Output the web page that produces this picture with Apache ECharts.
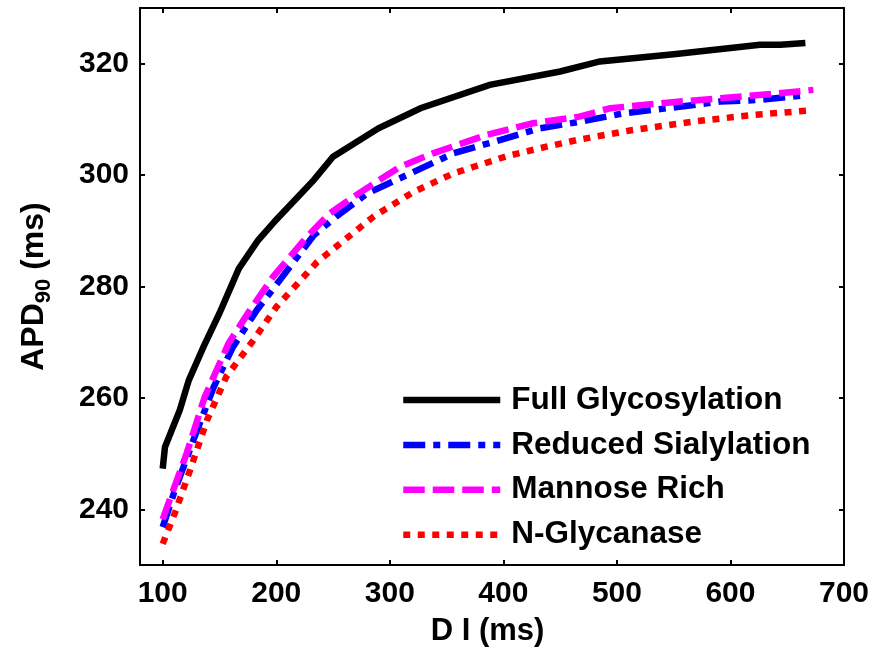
<!DOCTYPE html>
<html>
<head>
<meta charset="utf-8">
<title>APD90 restitution</title>
<script src="https://cdn.jsdelivr.net/npm/echarts@6/dist/echarts.min.js"></script>
<style>
  html, body { margin: 0; padding: 0; background: #fff; }
  #chart { width: 875px; height: 652px; }
</style>
</head>
<body>
<div id="chart"></div>
<script>
// Diastolic interval (ms) and APD90 (ms) for each glycosylation state
const diFull = [100, 102, 115, 123, 136, 150, 167, 184, 200, 233, 250, 290, 327, 388, 450, 485, 550, 626, 644, 666];
const apdFull = [247.3, 251.2, 257.8, 263.2, 269.2, 275.2, 283.2, 288.3, 292.0, 299.1, 303.3, 308.4, 312.0, 316.2, 318.6, 320.4, 321.7, 323.4, 323.4, 323.7];

const diReduced = [100, 110, 127, 145, 162, 183, 203, 233, 253, 280, 318, 356, 397, 432, 468, 506, 544, 591, 626, 668];
const apdReduced = [236.8, 243.0, 252.4, 262.0, 269.2, 275.8, 281.1, 289.2, 292.6, 296.7, 300.3, 303.9, 306.3, 308.4, 309.6, 311.1, 312.0, 313.2, 313.5, 314.4];

const diMannose = [100, 104, 121, 137, 158, 177, 197, 227, 247, 268, 309, 338, 385, 426, 467, 494, 544, 591, 638, 673];
const apdMannose = [238.2, 240.5, 250.0, 260.2, 269.8, 275.8, 281.7, 288.9, 293.1, 296.1, 301.5, 303.9, 307.2, 309.3, 310.5, 312.0, 313.0, 313.8, 314.6, 315.3];

const diNGly = [100, 111, 124, 139, 156, 180, 200, 236, 286, 321, 356, 403, 438, 465, 514, 567, 620, 670];
const apdNGly = [233.8, 239.5, 247.0, 256.0, 263.8, 270.4, 276.3, 284.4, 292.6, 297.0, 300.3, 303.4, 305.1, 306.3, 308.1, 309.6, 310.8, 311.6];

const seriesNames = ['Full Glycosylation', 'Reduced Sialylation', 'Mannose Rich', 'N-Glycanase'];

// Axis ranges and tick labels
const xRange = [80, 700];
const yRange = [230, 330];
const xTicks = [100, 200, 300, 400, 500, 600, 700];
const yTicks = [240, 260, 280, 300, 320];

const FONT = '"Liberation Sans", Arial, Helvetica, sans-serif';
const LINE_W = 6.5;

function pairs(xs, ys) { return xs.map((x, i) => [x, ys[i]]); }

const axisLineStyle = { color: '#000', width: 2 };

function lineSeries(name, xs, ys, color, dash) {
  return {
    name: name,
    type: 'line',
    xAxisIndex: 0,
    yAxisIndex: 0,
    data: pairs(xs, ys),
    showSymbol: false,
    symbol: 'none',
    smooth: false,
    animation: false,
    lineStyle: { color: color, width: LINE_W, type: dash, cap: 'butt', join: 'miter' },
    itemStyle: { color: color }
  };
}

const chart = echarts.init(document.getElementById('chart'), null, { renderer: 'canvas' });

chart.setOption({
  backgroundColor: '#fff',
  animation: false,
  grid: { left: 140, right: 31, top: 8, bottom: 85 },
  xAxis: [
    {
      type: 'value', min: xRange[0], max: xRange[1], position: 'bottom',
      splitLine: { show: false },
      axisLine: { show: true, lineStyle: axisLineStyle },
      axisTick: { show: true, inside: true, length: 5, customValues: xTicks, lineStyle: { color: '#000', width: 2 } },
      axisLabel: { show: true, customValues: xTicks, margin: 14, color: '#000', fontFamily: FONT, fontWeight: 'bold', fontSize: 30 },
      name: 'D I (ms)', nameLocation: 'middle', nameGap: 51,
      nameTextStyle: { color: '#000', fontFamily: FONT, fontWeight: 'bold', fontSize: 31, padding: [0, 9, 0, 0] }
    },
    {
      type: 'value', min: xRange[0], max: xRange[1], position: 'top',
      splitLine: { show: false },
      axisLine: { show: true, lineStyle: axisLineStyle },
      axisTick: { show: true, inside: true, length: 5, customValues: xTicks, lineStyle: { color: '#000', width: 2 } },
      axisLabel: { show: false }
    }
  ],
  yAxis: [
    {
      type: 'value', min: yRange[0], max: yRange[1], position: 'left',
      splitLine: { show: false },
      axisLine: { show: true, lineStyle: axisLineStyle },
      axisTick: { show: true, inside: true, length: 5, customValues: yTicks, lineStyle: { color: '#000', width: 2 } },
      axisLabel: { show: true, customValues: yTicks, margin: 11, color: '#000', fontFamily: FONT, fontWeight: 'bold', fontSize: 30 },
      name: '{a|APD}{b|90}{a| (ms)}', nameLocation: 'middle', nameGap: 85,
      nameTextStyle: {
        color: '#000', fontFamily: FONT, fontWeight: 'bold', fontSize: 32,
        rich: {
          a: { fontFamily: FONT, fontWeight: 'bold', fontSize: 32, lineHeight: 42, color: '#000', verticalAlign: 'middle' },
          b: { fontFamily: FONT, fontWeight: 'bold', fontSize: 22, lineHeight: 22, color: '#000', verticalAlign: 'bottom' }
        }
      }
    },
    {
      type: 'value', min: yRange[0], max: yRange[1], position: 'right',
      splitLine: { show: false },
      axisLine: { show: true, lineStyle: axisLineStyle },
      axisTick: { show: true, inside: true, length: 5, customValues: yTicks, lineStyle: { color: '#000', width: 2 } },
      axisLabel: { show: false }
    }
  ],
  legend: {
    show: true,
    orient: 'vertical',
    left: 395,
    top: 379,
    itemWidth: 97,
    itemHeight: 14,
    itemGap: 12.9,
    data: seriesNames,
    selectedMode: false,
    itemStyle: { opacity: 0, borderWidth: 0 },
    lineStyle: { width: LINE_W, cap: 'butt' },
    textStyle: { color: '#000', fontFamily: FONT, fontWeight: 'bold', fontSize: 31.5, lineHeight: 31.5, padding: [0, 0, 0, 6] }
  },
  series: [
    lineSeries(seriesNames[0], diFull, apdFull, '#000000', 'solid'),
    lineSeries(seriesNames[1], diReduced, apdReduced, '#0000ff', [22, 8, 7, 8]),
    lineSeries(seriesNames[2], diMannose, apdMannose, '#ff00ff', [21.5, 8]),
    lineSeries(seriesNames[3], diNGly, apdNGly, '#ff0000', [7, 7.5])
  ]
});
</script>
</body>
</html>
